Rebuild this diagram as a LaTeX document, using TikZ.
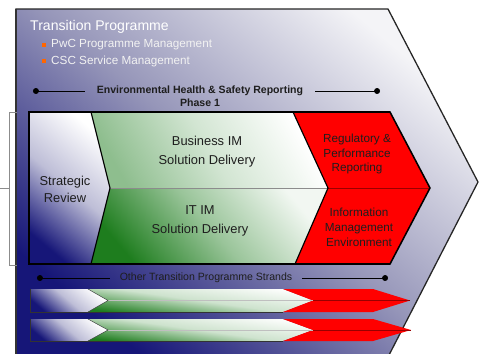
\documentclass[tikz,border=0pt]{standalone}
\usepackage{fontspec}
\setmainfont{Liberation Sans}
\usetikzlibrary{arrows}
\definecolor{deepblue}{RGB}{22,22,120}
\definecolor{haze}{RGB}{150,150,185}
\definecolor{paleblue}{RGB}{244,244,247}
\definecolor{mistblue}{RGB}{190,190,215}
\definecolor{leafgreen}{RGB}{30,125,30}
\definecolor{signalred}{RGB}{255,0,0}
\definecolor{bulletorange}{RGB}{255,102,0}
\definecolor{inkgrey}{RGB}{30,30,30}
\definecolor{bracketgrey}{RGB}{140,140,140}
\pgfdeclarelayer{nodelayer}
\pgfdeclarelayer{edgelayer}
\pgfsetlayers{edgelayer,nodelayer,main}
\tikzstyle{none}=[inner sep=0pt]
\tikzset{title/.style={anchor=west, inner sep=0pt, text=white, font=\fontsize{12}{14}\selectfont}}
\tikzset{bullet/.style={fill=bulletorange, minimum size=3.3pt, inner sep=0pt}}
\tikzset{item/.style={anchor=west, inner sep=0pt, text=white!95!black, font=\fontsize{10}{12}\selectfont}}
\tikzset{phase/.style={inner ysep=0pt, inner xsep=10pt, text=inkgrey, font=\bfseries\fontsize{9}{10}\selectfont}}
\tikzset{strands/.style={inner ysep=0pt, inner xsep=8pt, text=inkgrey, font=\fontsize{9}{10}\selectfont}}
\tikzset{stage/.style={inner sep=0pt, align=center, text=inkgrey, font=\fontsize{11}{16}\selectfont}}
\tikzset{review/.style={stage, font=\fontsize{11}{14.5}\selectfont}}
\tikzset{redstage/.style={inner sep=0pt, align=center, text=inkgrey, font=\fontsize{10}{12.75}\selectfont}}
\tikzset{dotline/.style={*-, line width=.5pt, draw=black}}
\tikzset{outline/.style={draw=black, line width=1pt, line join=miter}}

\begin{document}
\begin{tikzpicture}[x=0.03cm, y=-0.03cm]
        \useasboundingbox (0,0) rectangle (480,353);
        \begin{pgfonlayer}{nodelayer}
            \node [style=title] (0) at (30,27) {Transition Programme};
            \node [style=bullet] (1) at (44,45) {};
            \node [style=item] (2) at (51,45) {PwC Programme Management};
            \node [style=bullet] (3) at (44,61) {};
            \node [style=item] (4) at (51,61) {CSC Service Management};
            \node [style=phase] (5) at (200,91) {Environmental Health \& Safety Reporting};
            \node [style=phase] (6) at (200,103) {Phase 1};
            \coordinate (7) at (33,91);
            \coordinate (8) at (380,91);
            \node [style=review] (9) at (65,189) {Strategic\\Review};
            \node [style=stage] (10) at (207,152) {Business IM\\Solution Delivery};
            \node [style=stage] (11) at (200,221) {IT IM\\Solution Delivery};
            \node [style=redstage] (12) at (357,154) {Regulatory \&\\Performance\\Reporting};
            \node [style=redstage] (13) at (359,227) {Information\\Management\\Environment};
            \node [style=strands] (14) at (206,278) {Other Transition Programme Strands};
            \coordinate (15) at (37,278);
            \coordinate (16) at (388,278);
        \end{pgfonlayer}
        \begin{pgfonlayer}{edgelayer}
            % programme chevron behind everything
            \begin{scope}
                \clip (0,0) rectangle (480,353);
                \shade [bottom color=deepblue, top color=paleblue, middle color=haze, shading angle=-40]
                    (16,9) -- (388,9) -- (478,182) -- (388,357) -- (16,357) -- cycle;
                \draw [line width=1.1pt, draw=black!85, line join=miter]
                    (16,357) -- (16,9) -- (388,9) -- (478,182) -- (388,357);
                \draw [line width=2pt, draw=black!80] (16,9) -- (16,357);
            \end{scope}
            % side bracket
            \draw [bracketgrey, line width=.8pt] (17,112) -- (9,112) -- (9,265) -- (17,265);
            \draw [bracketgrey, line width=.8pt] (9,188) -- (0,188);
            % phase 1 band
            \shade [bottom color=deepblue, top color=white, middle color=mistblue, shading angle=-40]
                (29,112) -- (91,112) -- (110,188) -- (91,264) -- (29,264) -- cycle;
            \shade [bottom color=leafgreen!50!white, top color=white, middle color=leafgreen!20!white, shading angle=-60]
                (91,112) -- (293,112) -- (328,188) -- (110,188) -- cycle;
            \shade [bottom color=leafgreen, top color=white!94!leafgreen, middle color=leafgreen!45!white, shading angle=-50]
                (110,188) -- (328,188) -- (295,264) -- (91,264) -- cycle;
            \fill [signalred] (293,112) -- (390,112) -- (430,188) -- (390,264) -- (295,264) -- (328,188) -- cycle;
            \draw [black!45, line width=.4pt] (110,188) -- (328,188);
            \draw [red!60!black, line width=.4pt] (328,188) -- (430,188);
            \draw [style=outline] (91,112) -- (110,188) -- (91,264);
            \draw [style=outline] (293,112) -- (328,188) -- (295,264);
            \draw [style=outline, line width=1.3pt] (29,112) -- (390,112) -- (430,188) -- (390,264) -- (29,264) -- cycle;
            % other strands, first bar
            \shade [bottom color=deepblue, top color=white, middle color=mistblue, shading angle=-40]
                (30,289) -- (88,289) -- (108,300.5) -- (88,312) -- (30,312) -- cycle;
            \shade [bottom color=leafgreen, top color=white, middle color=leafgreen!22!white, shading angle=-8]
                (88,289) -- (283,289) -- (313,300.5) -- (283,312) -- (88,312) -- (108,300.5) -- cycle;
            \fill [signalred] (283,289) -- (373,289) -- (410,300.5) -- (373,312) -- (283,312) -- (313,300.5) -- cycle;
            \draw [black!25, line width=.3pt] (108,300.5) -- (313,300.5);
            \draw [red!60!black, line width=.3pt] (313,300.5) -- (410,300.5);
            \draw [black!80, line width=.7pt] (30,289) -- (30,312) -- (283,312);
            \draw [black!70, line width=.4pt] (88,289) -- (108,300.5) -- (88,312);
            % other strands, second bar
            \shade [bottom color=deepblue, top color=white, middle color=mistblue, shading angle=-40]
                (30,319) -- (88,319) -- (108,330) -- (88,341) -- (30,341) -- cycle;
            \shade [bottom color=leafgreen, top color=white, middle color=leafgreen!22!white, shading angle=-8]
                (88,319) -- (283,319) -- (313,330) -- (283,341) -- (88,341) -- (108,330) -- cycle;
            \fill [signalred] (283,319) -- (373,319) -- (411,330) -- (373,341) -- (283,341) -- (313,330) -- cycle;
            \draw [black!25, line width=.3pt] (108,330) -- (313,330);
            \draw [red!60!black, line width=.3pt] (313,330) -- (411,330);
            \draw [black!80, line width=.7pt] (30,319) -- (30,341) -- (283,341);
            \draw [black!70, line width=.4pt] (88,319) -- (108,330) -- (88,341);
            % span markers
            \draw [style=dotline] (7) to (5);
            \draw [style=dotline] (8) to (5);
            \draw [style=dotline] (15) to (14);
            \draw [style=dotline] (16) to (14);
        \end{pgfonlayer}
    \end{tikzpicture}
\end{document}
